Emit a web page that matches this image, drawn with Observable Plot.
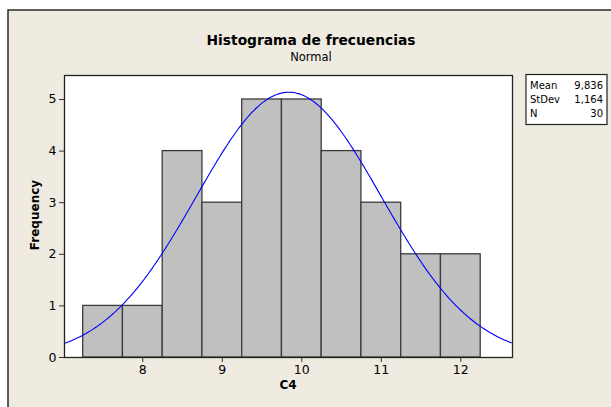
<!DOCTYPE html>
<html>
<head>
<meta charset="utf-8">
<script src="https://cdn.jsdelivr.net/npm/d3@7"></script>
<script src="https://cdn.jsdelivr.net/npm/@observablehq/plot@0.6"></script>
<style>
  html, body { margin: 0; padding: 0; background: #ffffff; }
  #chart { width: 611px; height: 407px; }
</style>
</head>
<body>
<div id="chart"></div>
<script>
// ---- data ----
const binStarts = [7.25, 7.75, 8.25, 8.75, 9.25, 9.75, 10.25, 10.75, 11.25, 11.75];
const counts    = [1, 1, 4, 3, 5, 5, 4, 3, 2, 2];
const binWidth  = 0.5;
const xTicks    = [8, 9, 10, 11, 12];
const yTicks    = [0, 1, 2, 3, 4, 5];
const statLabels = ["Mean", "StDev", "N"];
const statValues = ["9,836", "1,164", "30"];
const mean = 9.836, sd = 1.164, n = 30;
const titleText = "Histograma de frecuencias";
const subtitleText = "Normal";
const xLabel = "C4";
const yLabel = "Frequency";

// table for the bars
const bars = binStarts.map((s, i) => ({lo: s, hi: s + binWidth, count: counts[i]}));

// fitted normal curve (from the displayed Mean, StDev and N)
const xDomain = [7.015, 12.65];
const curve = d3.range(xDomain[0], xDomain[1] + 0.001, 0.02).map(x => ({
  x,
  y: n * binWidth / (sd * Math.sqrt(2 * Math.PI)) * Math.exp(-0.5 * ((x - mean) / sd) ** 2)
}));

const font = "DejaVu Sans, Verdana, sans-serif";

const plot = Plot.plot({
  width: 611,
  height: 407,
  marginLeft: 64,
  marginRight: 99,
  marginTop: 75,
  marginBottom: 50,
  style: {background: "transparent", fontFamily: font, fontSize: "12px", color: "#000"},
  x: {domain: xDomain, label: null},
  y: {domain: [0, 5.465], label: null},
  marks: [
    Plot.frame({fill: "#ffffff", stroke: "none"}),
    Plot.rectY(bars, {x1: "lo", x2: "hi", y: "count", fill: "#c0c0c0", stroke: "#3c3c3c", strokeWidth: 1.3}),
    Plot.line(curve, {x: "x", y: "y", stroke: "#0000ff", strokeWidth: 1.1, clip: true}),
    Plot.axisX({ticks: xTicks, tickSize: 5, tickPadding: 3, fontSize: 12.5, tickFormat: d => String(d), stroke: "#333"}),
    Plot.axisY({ticks: yTicks, tickSize: 5, tickPadding: 3, fontSize: 12.5, tickFormat: d => String(d), stroke: "#333"}),
    Plot.frame({stroke: "#222", strokeWidth: 1.3})
  ]
});

document.getElementById("chart").appendChild(plot);

const svg = d3.select(plot);
// beige panel with dark border
svg.insert("rect", ":first-child")
  .attr("x", 8).attr("y", 10).attr("width", 620).attr("height", 420)
  .attr("fill", "#efebe1").attr("stroke", "#2a2a2a").attr("stroke-width", 1.5);

svg.append("text").attr("x", 311).attr("y", 45).attr("text-anchor", "middle")
  .attr("font-weight", "bold").attr("font-size", 13.8).attr("fill", "#000").text(titleText);
svg.append("text").attr("x", 311).attr("y", 61).attr("text-anchor", "middle")
  .attr("font-size", 11.5).attr("fill", "#000").text(subtitleText);
svg.append("text").attr("transform", "translate(39,215) rotate(-90)").attr("text-anchor", "middle")
  .attr("font-weight", "bold").attr("font-size", 12).attr("fill", "#000").text(yLabel);
svg.append("text").attr("x", 288).attr("y", 389).attr("text-anchor", "middle")
  .attr("font-weight", "bold").attr("font-size", 12).attr("fill", "#000").text(xLabel);

// stats box
const box = svg.append("g");
box.append("rect").attr("x", 526).attr("y", 74.5).attr("width", 81).attr("height", 50)
  .attr("fill", "#ffffff").attr("stroke", "#222").attr("stroke-width", 1.2);
statLabels.forEach((lab, i) => {
  box.append("text").attr("x", 530).attr("y", 89 + i * 14).attr("text-anchor", "start")
    .attr("font-size", 10).attr("fill", "#000").text(lab);
  box.append("text").attr("x", 603).attr("y", 89 + i * 14).attr("text-anchor", "end")
    .attr("font-size", 10).attr("fill", "#000").text(statValues[i]);
});
</script>
</body>
</html>
